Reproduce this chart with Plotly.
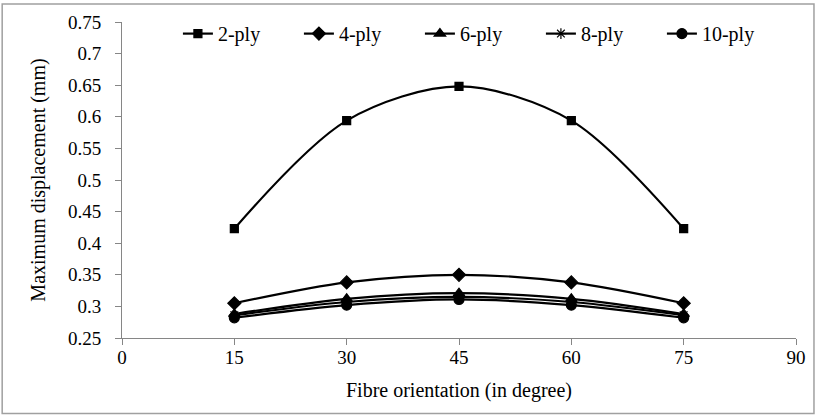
import plotly.graph_objects as go

angles = [15, 30, 45, 60, 75]
ply2 = [0.423, 0.594, 0.648, 0.594, 0.423]
ply4 = [0.305, 0.338, 0.350, 0.338, 0.305]
ply6 = [0.288, 0.312, 0.321, 0.312, 0.288]
ply8 = [0.286, 0.307, 0.315, 0.307, 0.286]
ply10 = [0.282, 0.302, 0.311, 0.302, 0.282]

series = [
    ("2-ply", ply2, "square", 8),
    ("4-ply", ply4, "diamond", 10),
    ("6-ply", ply6, "triangle-up", 10),
    ("8-ply", ply8, "asterisk-open", 9),
    ("10-ply", ply10, "circle", 10),
]

W, H = 818, 417
ml, mr, mt, mb = 122, 21, 20, 79
pw, ph = W - ml - mr, H - mt - mb

fig = go.Figure()
for name, vals, sym, sz in series:
    fig.add_trace(go.Scatter(
        x=angles, y=vals, name=name, mode="lines+markers",
        line=dict(color="black", width=2.2, shape="spline", smoothing=0.9),
        marker=dict(symbol=sym, size=sz, color="black",
                    line=dict(color="black", width=1.2)),
    ))

font = "Liberation Serif, Times New Roman, serif"
fig.update_layout(
    width=W, height=H,
    margin=dict(l=ml, r=mr, t=mt, b=mb),
    plot_bgcolor="white", paper_bgcolor="white",
    font=dict(family=font, size=19, color="black"),
    showlegend=True,
    legend=dict(orientation="h", x=(178 - ml) / pw, xanchor="left",
                y=1.025, yanchor="top",
                font=dict(family=font, size=20), bgcolor="rgba(0,0,0,0)",
                entrywidth=76, entrywidthmode="pixels", tracegroupgap=0),
    xaxis=dict(range=[0, 90], tickvals=[0, 15, 30, 45, 60, 75, 90],
               showgrid=False, zeroline=False, showline=True,
               linecolor="#868686", linewidth=1, ticks="outside",
               tickcolor="#868686", ticklen=6, ticklabelstandoff=-4,
               title=dict(text="Fibre orientation (in degree)",
                          font=dict(family=font, size=20), standoff=16)),
    yaxis=dict(range=[0.25, 0.75], tickvals=[0.25, 0.3, 0.35, 0.4, 0.45, 0.5,
                                             0.55, 0.6, 0.65, 0.7, 0.75],
               ticktext=["0.25", "0.3", "0.35", "0.4", "0.45", "0.5",
                         "0.55", "0.6", "0.65", "0.7", "0.75"],
               showgrid=False, zeroline=False, showline=True,
               linecolor="#868686", linewidth=1, ticks="outside",
               tickcolor="#868686", ticklen=6, ticklabelstandoff=10,
               title=dict(text="Maximum displacement (mm)",
                          font=dict(family=font, size=20), standoff=16)),
)

# outer border around the whole chart
fig.add_shape(type="rect", xref="paper", yref="paper",
              x0=(2 - ml) / pw, x1=(W - 3 - ml) / pw,
              y0=-(H - 3 - mt - ph) / ph, y1=1 + (mt - 2) / ph,
              line=dict(color="#a0a0a0", width=1.5), fillcolor="rgba(0,0,0,0)",
              layer="below")

fig.write_html("out.html", config={"displayModeBar": False},
               post_script="document.body.style.margin='0';"
                           "document.body.style.overflow='hidden';")
